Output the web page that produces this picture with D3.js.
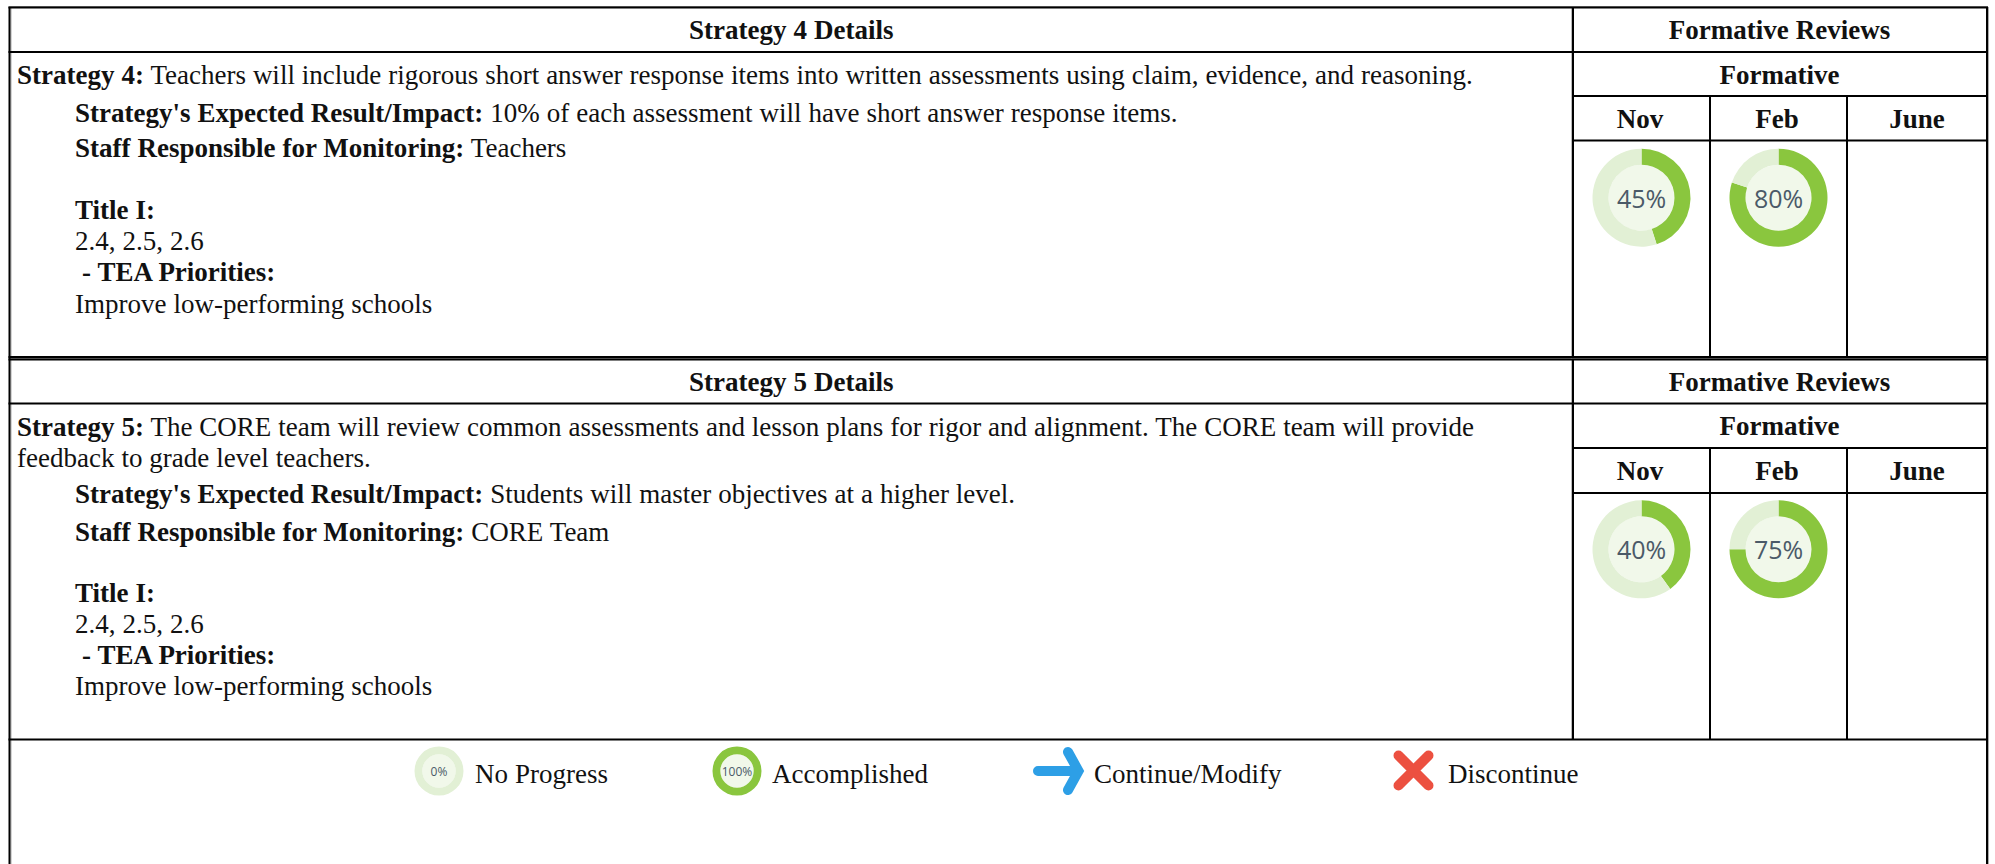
<!DOCTYPE html>
<html>
<head>
<meta charset="utf-8">
<title>Strategy reviews</title>
<script src="https://cdn.jsdelivr.net/npm/d3@7"></script>
<style>
  html, body { margin: 0; padding: 0; background: #fff; }
  svg { display: block; }
  text { font-family: "Liberation Serif", "Times New Roman", serif; font-size: 27px; word-spacing: 0.2px; fill: #111; }
  .b { font-weight: bold; }
  .pct { font-family: "Open Sans", sans-serif; fill: #4b5a68; text-anchor: middle; dominant-baseline: central; word-spacing: 0; }
</style>
</head>
<body>
<svg id="chart" width="1995" height="864"></svg>
<script>
// values
const months = ["Nov", "Feb", "June"];
const strategy4Reviews = [45, 80];
const strategy5Reviews = [40, 75];
const legendLabels = ["No Progress", "Accomplished", "Continue/Modify", "Discontinue"];
const legendValues = [0, 100];

const strategy4Lines = [
  [["Strategy 4:", true], [" Teachers will include rigorous short answer response items into written assessments using claim, evidence, and reasoning.", false]]
];
const strategy5Lines = [
  [["Strategy 5:", true], [" The CORE team will review common assessments and lesson plans for rigor and alignment. The CORE team will provide", false]],
  [["feedback to grade level teachers.", false]]
];
const strategy4Details = [
  [["Strategy's Expected Result/Impact:", true], [" 10% of each assessment will have short answer response items.", false]],
  [["Staff Responsible for Monitoring:", true], [" Teachers", false]]
];
const strategy5Details = [
  [["Strategy's Expected Result/Impact:", true], [" Students will master objectives at a higher level.", false]],
  [["Staff Responsible for Monitoring:", true], [" CORE Team", false]]
];
const titleLines = [
  [["Title I:", true]],
  [["2.4, 2.5, 2.6", false]],
  [["\u00a0- TEA Priorities:", true]],
  [["Improve low-performing schools", false]]
];

const svg = d3.select("#chart");

// table frame
const left = 9.5, right = 1987, split = 1573;
const colEdges = [1573, 1710, 1847, 1987];
const rows = [
  { name: "Strategy 4 Details", top: 7.5, h1: 52, h2: 96, h3: 140.5, bottom: 357, reviews: strategy4Reviews,
    lines: strategy4Lines, lineY: [83.5], details: strategy4Details, detailY: [122, 157], titleY: [219, 250, 281, 312.5], cy: 197.7 },
  { name: "Strategy 5 Details", top: 359.5, h1: 403.5, h2: 448, h3: 493, bottom: 739.5, reviews: strategy5Reviews,
    lines: strategy5Lines, lineY: [435.7, 466.7], details: strategy5Details, detailY: [503, 541], titleY: [602, 633, 664, 695], cy: 549.3 }
];

const colMid = i => (colEdges[i] + colEdges[i + 1]) / 2;

function hline(y, x1, x2, w, color) {
  svg.append("line").attr("x1", x1).attr("x2", x2).attr("y1", y).attr("y2", y)
    .attr("stroke", color || "#000").attr("stroke-width", w || 2);
}
function vline(x, y1, y2, w, color) {
  svg.append("line").attr("x1", x).attr("x2", x).attr("y1", y1).attr("y2", y2)
    .attr("stroke", color || "#000").attr("stroke-width", w || 2);
}

// soft grey edge next to the outer lines, as in the scan
hline(6.5, left - 1, right + 1, 1, "#999");
vline(left + 1.5, 7, 864, 1, "#aaa");
vline(right + 1.5, 7, 864, 1, "#aaa");
hline(358.5, left, right, 2, "#999");
vline(split - 1.5, 7, 740, 1, "#bbb");

// one line of mixed bold and plain text
function writeLine(x, y, parts, anchor) {
  const t = svg.append("text").attr("x", x).attr("y", y).attr("text-anchor", anchor || "start")
    .style("white-space", "pre");
  parts.forEach(p => t.append("tspan").classed("b", p[1]).text(p[0]));
}

// donut: ring from a pie layout, pale disc and the percent in the middle
const ringColor = d3.scaleOrdinal().domain([0, 1]).range(["#8ac63e", "#e2f0d5"]);
const pie = d3.pie().sort(null);

function donut(cx, cy, value, outer, inner, fontSize) {
  const g = svg.append("g").attr("transform", `translate(${cx},${cy})`);
  const arc = d3.arc().innerRadius(inner).outerRadius(outer);
  g.append("circle").attr("r", inner).attr("fill", "#f1f8ea");
  g.selectAll("path").data(pie([value, 100 - value])).enter().append("path")
    .attr("d", arc)
    .attr("fill", (d, i) => ringColor(i));
  g.append("text").attr("class", "pct").style("font-size", fontSize + "px").text(value + "%");
}

rows.forEach(r => {
  hline(r.top, left - 1, right + 1);
  hline(r.h1, left - 1, right + 1);
  hline(r.h2, split, right + 1);
  hline(r.h3, split, right + 1);
  hline(r.bottom, left - 1, right + 1);
  vline(split, r.top, r.bottom);
  colEdges.slice(1, 3).forEach(x => vline(x, r.h2, r.bottom));

  writeLine((left + split) / 2, r.top + 31, [[r.name, true]], "middle");
  writeLine((split + right) / 2 - 0.5, r.top + 31, [["Formative Reviews", true]], "middle");
  writeLine((split + right) / 2 - 0.5, r.h1 + 31.5, [["Formative", true]], "middle");
  months.forEach((m, i) => writeLine(colMid(i) - (i < 2 ? 1.5 : 0), r.h2 + 31.5, [[m, true]], "middle"));

  r.lines.forEach((l, i) => writeLine(17, r.lineY[i], l));
  r.details.forEach((l, i) => writeLine(75, r.detailY[i], l));
  titleLines.forEach((l, i) => writeLine(75, r.titleY[i], l));

  r.reviews.forEach((v, i) => donut(colMid(i), r.cy, v, 49, 33, 25));
});

vline(left, 7, 864);
vline(right, 7, 864);

// legend
const legendY = 782.7;
donut(439, 771, legendValues[0], 24.5, 16.7, 12);
donut(737, 771, legendValues[1], 24.5, 16.7, 12);
writeLine(475, legendY, [[legendLabels[0], false]]);
writeLine(772, legendY, [[legendLabels[1], false]]);
writeLine(1094, legendY, [[legendLabels[2], false]]);
writeLine(1448, legendY, [[legendLabels[3], false]]);

const arrow = d3.path();
arrow.moveTo(1038, 771); arrow.lineTo(1076, 771);
arrow.moveTo(1068, 752); arrow.lineTo(1078.5, 771); arrow.lineTo(1068, 790);
svg.append("path").attr("d", arrow.toString()).attr("fill", "none")
  .attr("stroke", "#2d9fe6").attr("stroke-width", 10).attr("stroke-linecap", "round").attr("stroke-linejoin", "miter");

const cross = d3.path();
cross.moveTo(1398.5, 755.5); cross.lineTo(1428.5, 785.5);
cross.moveTo(1428.5, 755.5); cross.lineTo(1398.5, 785.5);
svg.append("path").attr("d", cross.toString()).attr("fill", "none")
  .attr("stroke", "#ec5040").attr("stroke-width", 10).attr("stroke-linecap", "round");
</script>
</body>
</html>
